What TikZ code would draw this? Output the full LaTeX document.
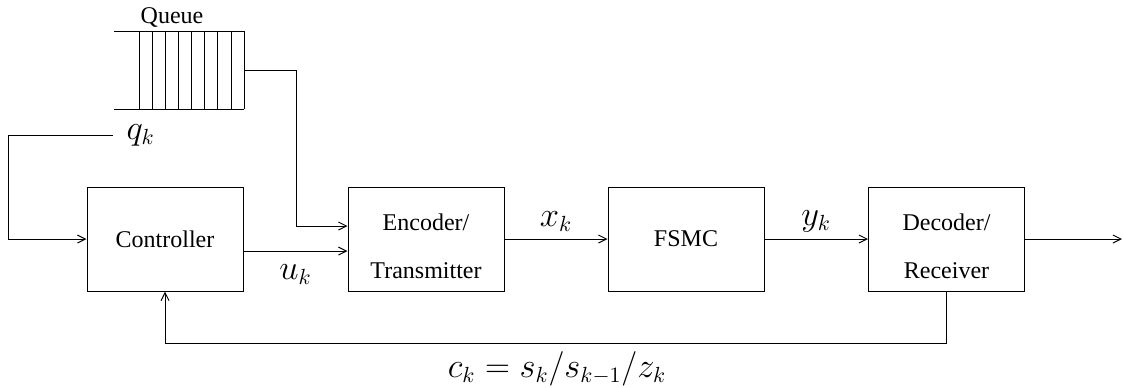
\documentclass[tikz,border=0pt]{standalone}
\usepackage{fontspec}
\setmainfont{Liberation Serif}
\usetikzlibrary{arrows.meta,positioning}

\tikzset{
	block/.style={draw,rectangle,minimum width=78pt,minimum height=52pt,align=center,font=\fontsize{12}{14.5}\selectfont},
	sig/.style={font=\fontsize{16}{19}\selectfont}
}

\begin{document}
\begin{tikzpicture}[x=0.5pt,y=-0.5pt,line width=0.5pt,>={Straight Barb[length=4pt,width=4pt]}]
		\useasboundingbox (0,0) rectangle (1123,387);

		% blocks
		\node[block] (ctrl) at (165,239) {Controller};
		\node[block] (enc) at (426,239) {\rule{0pt}{16pt}Encoder/\\[9.5pt]Transmitter};
		\node[block] (fsmc) at (686,239) {FSMC};
		\node[block] (dec) at (946.5,239) {\rule{0pt}{16pt}Decoder/\\[9.5pt]Receiver};

		% queue
		\draw (114,31) -- (244,31);
		\draw (114,109) -- (244,109);
		\foreach \x in {139,152,165,178,191,204,217,231,244}
			\draw (\x,31) -- (\x,109);
		\node[font=\fontsize{12}{14.5}\selectfont] (qlabel) at (172,17) {Queue};
		\coordinate (queue) at (244,70);
		\node[sig,anchor=west,inner sep=0pt] (qk) at (126,135) {$q_k$};

		% connections
		\draw[->] ([xshift=-6.5pt]qk.west) -- ++(-105,0) |- (ctrl.west);
		\draw[->] (queue) -- ++(52,0) |- ([yshift=6.5pt]enc.west);
		\draw[->] ([yshift=-6pt]ctrl.east) -- ([yshift=-6pt]enc.west)
			node[sig,pos=0.5,below=3pt] (uk) {$u_k$};
		\path[->] (enc) edge node[sig,above] (xk) {$x_k$} (fsmc);
		\path[->] (fsmc) edge node[sig,above] (yk) {$y_k$} (dec);
		\coordinate (out) at (1122,239);
		\draw[->] (dec) -- (out);
		\draw[->] (dec.south) -- ++(0,52) -| (ctrl.south);
		\node[sig,anchor=base,inner sep=0pt] (ck) at (557,377) {$c_k = s_k/s_{k-1}/z_k$};
	\end{tikzpicture}
\end{document}
